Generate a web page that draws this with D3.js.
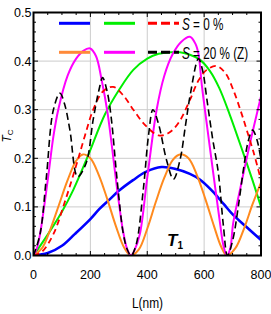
<!DOCTYPE html>
<html><head><meta charset="utf-8">
<script src="https://cdn.jsdelivr.net/npm/d3@7"></script>
<style>
html,body{margin:0;padding:0;background:#fff;}
svg{display:block;font-family:"Liberation Sans",Arial,sans-serif;}
</style></head>
<body><svg id="c" width="271" height="314"></svg>
<script>
// ---- data ----
const xTicks = [0, 200, 400, 600, 800];
const yTicks = [0.0, 0.1, 0.2, 0.3, 0.4, 0.5];
const yTickLabels = ["0.0", "0.1", "0.2", "0.3", "0.4", "0.5"];

const blueL = [0, 50, 100, 145, 200, 232, 267, 300, 350, 395, 450, 500, 550, 586, 630, 670, 703, 750, 800];
const blueT = [0, 0.005, 0.02, 0.044, 0.075, 0.096, 0.115, 0.133, 0.155, 0.172, 0.182, 0.178, 0.168, 0.156, 0.132, 0.105, 0.083, 0.058, 0.032];

const greenL = [0, 50, 100, 140, 193, 251, 300, 351, 400, 440, 480, 515, 550, 585, 620, 653, 690, 738, 770, 800];
const greenT = [0, 0.043, 0.09, 0.135, 0.207, 0.29, 0.34, 0.382, 0.405, 0.415, 0.418, 0.418, 0.413, 0.403, 0.38, 0.345, 0.29, 0.21, 0.155, 0.10];

const redL = [0, 30, 70, 110, 150, 180, 210, 245, 280, 315, 351, 390, 440, 475, 509, 550, 580, 609, 644, 675, 703, 730, 750, 775, 800];
const redT = [0, 0.008, 0.044, 0.11, 0.185, 0.245, 0.30, 0.338, 0.347, 0.33, 0.30, 0.27, 0.247, 0.252, 0.272, 0.32, 0.36, 0.382, 0.39, 0.375, 0.34, 0.295, 0.258, 0.21, 0.155];

const orangeL = [0, 30, 60, 90, 120, 150, 174, 200, 230, 260, 290, 320, 343, 370, 400, 430, 460, 490, 515, 545, 575, 605, 635, 660, 680, 710, 740, 770, 800];
const orangeT = [0, 0.015, 0.055, 0.105, 0.155, 0.195, 0.208, 0.2, 0.165, 0.115, 0.06, 0.015, 0, 0.012, 0.055, 0.11, 0.16, 0.197, 0.208, 0.2, 0.165, 0.115, 0.06, 0.018, 0, 0.015, 0.055, 0.105, 0.15];

const magentaL = [0, 12, 23, 50, 70, 87, 120, 150, 175, 199, 220, 240, 260, 285, 300, 315, 330, 343, 356, 374, 400, 433, 460, 490, 520, 550, 570, 580, 592, 605, 632, 656, 668, 680, 692, 702, 726, 761, 800];
const magentaT = [0, 0.015, 0.044, 0.155, 0.245, 0.30, 0.37, 0.405, 0.421, 0.426, 0.41, 0.36, 0.295, 0.18, 0.11, 0.05, 0.012, 0, 0.012, 0.044, 0.16, 0.30, 0.37, 0.415, 0.44, 0.45, 0.435, 0.415, 0.35, 0.29, 0.17, 0.066, 0.02, 0, 0.015, 0.066, 0.135, 0.23, 0.327];

const blackL = [0, 23, 45, 70, 93, 110, 128, 155, 185, 210, 230, 243, 258, 272, 295, 316, 330, 343, 360, 386, 405, 420, 440, 468, 492, 515, 535, 551, 580, 595, 610, 630, 650, 668, 682, 700, 720, 738, 755, 770, 785, 800];
const blackT = [0, 0.044, 0.16, 0.30, 0.334, 0.31, 0.258, 0.162, 0.19, 0.28, 0.34, 0.366, 0.34, 0.29, 0.15, 0.044, 0.012, 0, 0.02, 0.135, 0.25, 0.30, 0.27, 0.196, 0.157, 0.196, 0.27, 0.33, 0.405, 0.38, 0.32, 0.24, 0.17, 0.06, 0, 0.03, 0.1, 0.176, 0.235, 0.258, 0.24, 0.197];

const legendRow1 = ["blue", "green", "red"];
const legendRow2 = ["orange", "magenta", "black"];
const legendText1 = ["S", " = 0 %"];
const legendText2 = ["S", " = 20 % (Z)"];

// ---- drawing ----
const svg = d3.select("#c");
const x = d3.scaleLinear().domain([0, 800]).range([33.5, 261]);
const y = d3.scaleLinear().domain([0, 0.5]).range([255.5, 12.5]);

svg.append("defs").append("clipPath").attr("id", "clip")
  .append("rect").attr("x", 33.5).attr("y", 12.5).attr("width", 261 - 33.5).attr("height", 255.5 - 12.5);

// grid
const g = svg.append("g");
g.selectAll(".gx").data(xTicks.slice(1, -1)).enter().append("line")
  .attr("x1", d => x(d)).attr("x2", d => x(d)).attr("y1", y(0)).attr("y2", y(0.5))
  .attr("stroke", "#cccccc").attr("stroke-width", 1);
g.selectAll(".gy").data(yTicks.slice(1, -1)).enter().append("line")
  .attr("y1", d => y(d)).attr("y2", d => y(d)).attr("x1", x(0)).attr("x2", x(800))
  .attr("stroke", "#cccccc").attr("stroke-width", 1);

// curves
const series = [
  {L: blueL, T: blueT, color: "#0000ff", w: 2.6, dash: null},
  {L: greenL, T: greenT, color: "#00ee00", w: 2.0, dash: null},
  {L: orangeL, T: orangeT, color: "#ff8a1e", w: 2.0, dash: null},
  {L: magentaL, T: magentaT, color: "#ff00ff", w: 2.0, dash: null},
  {L: redL, T: redT, color: "#ff0000", w: 1.8, dash: "6,4"},
  {L: blackL, T: blackT, color: "#000000", w: 1.6, dash: "7,4"}
];
const line = d3.line().x(d => x(d[0])).y(d => y(d[1])).curve(d3.curveCatmullRom.alpha(0.5));
const cg = svg.append("g").attr("clip-path", "url(#clip)");
series.forEach(s => {
  const pts = s.L.map((l, i) => [l, s.T[i]]);
  cg.append("path").attr("d", line(pts)).attr("fill", "none")
    .attr("stroke", s.color).attr("stroke-width", s.w)
    .attr("stroke-dasharray", s.dash);
});

// axes (ticks inward, all four sides)
const major = 4.5, minor = 2.5;
const xMinor = d3.range(0, 801, 50);
const yMinor = d3.range(0, 0.5001, 0.02);
const tg = svg.append("g").attr("stroke", "#000").attr("stroke-width", 1);
xMinor.forEach(v => {
  const len = (v % 200 === 0) ? major : minor;
  tg.append("line").attr("x1", x(v)).attr("x2", x(v)).attr("y1", y(0)).attr("y2", y(0) - len);
  tg.append("line").attr("x1", x(v)).attr("x2", x(v)).attr("y1", y(0.5)).attr("y2", y(0.5) + len);
});
yMinor.forEach(v => {
  const isMajor = Math.abs(v * 10 - Math.round(v * 10)) < 1e-6;
  const len = isMajor ? major : minor;
  tg.append("line").attr("y1", y(v)).attr("y2", y(v)).attr("x1", x(0)).attr("x2", x(0) + len);
  tg.append("line").attr("y1", y(v)).attr("y2", y(v)).attr("x1", x(800)).attr("x2", x(800) - len);
});
svg.append("rect").attr("x", x(0)).attr("y", y(0.5)).attr("width", x(800) - x(0)).attr("height", y(0) - y(0.5))
  .attr("fill", "none").attr("stroke", "#000").attr("stroke-width", 2);

// tick labels
svg.selectAll(".xl").data(xTicks).enter().append("text")
  .attr("x", d => x(d)).attr("y", 279).attr("text-anchor", "middle")
  .attr("font-size", 12.5).text(d => d);
svg.selectAll(".yl").data(yTicks).enter().append("text")
  .attr("x", 31.5).attr("y", d => y(d) + 4.5).attr("text-anchor", "end")
  .attr("font-size", 12.5).text((d, i) => yTickLabels[i]);

// axis titles
svg.append("text").attr("transform", "translate(147.5,308) scale(0.85,1)")
  .attr("text-anchor", "middle").attr("font-size", 14).text("L(nm)");
const yt = svg.append("text").attr("transform", "translate(11,136) rotate(-90)")
  .attr("text-anchor", "middle").attr("font-size", 12);
yt.append("tspan").attr("font-style", "italic").text("T");
yt.append("tspan").attr("font-size", 8).attr("dy", 2).text("C");

const t1 = svg.append("text").attr("x", 167).attr("y", 246).attr("font-size", 17).attr("font-weight", "bold");
t1.append("tspan").attr("font-style", "italic").text("T");
t1.append("tspan").attr("font-size", 10).attr("dy", 3).text("1");

// legend
const colorMap = {blue: "#0000ff", green: "#00ee00", red: "#ff0000", orange: "#ff8a3a", magenta: "#ff00ff", black: "#000000"};
const lx = [59, 104, 148];
[[legendRow1, legendText1, 23.3, 29.5], [legendRow2, legendText2, 52.3, 59]].forEach(([row, txt, ly, ty]) => {
  row.forEach((c, i) => {
    const dashed = (c === "red" || c === "black");
    svg.append("line").attr("x1", lx[i]).attr("x2", lx[i] + 31).attr("y1", ly).attr("y2", ly)
      .attr("stroke", colorMap[c]).attr("stroke-width", 3)
      .attr("stroke-dasharray", dashed ? "9,4" : null);
  });
  const tt = svg.append("text").attr("transform", `translate(182,${ty}) scale(0.69,1)`)
    .attr("font-size", 17).attr("xml:space", "preserve").style("white-space", "pre");
  tt.append("tspan").attr("font-style", "italic").text(txt[0]);
  tt.append("tspan").text(txt[1]);
});
</script></body></html>
